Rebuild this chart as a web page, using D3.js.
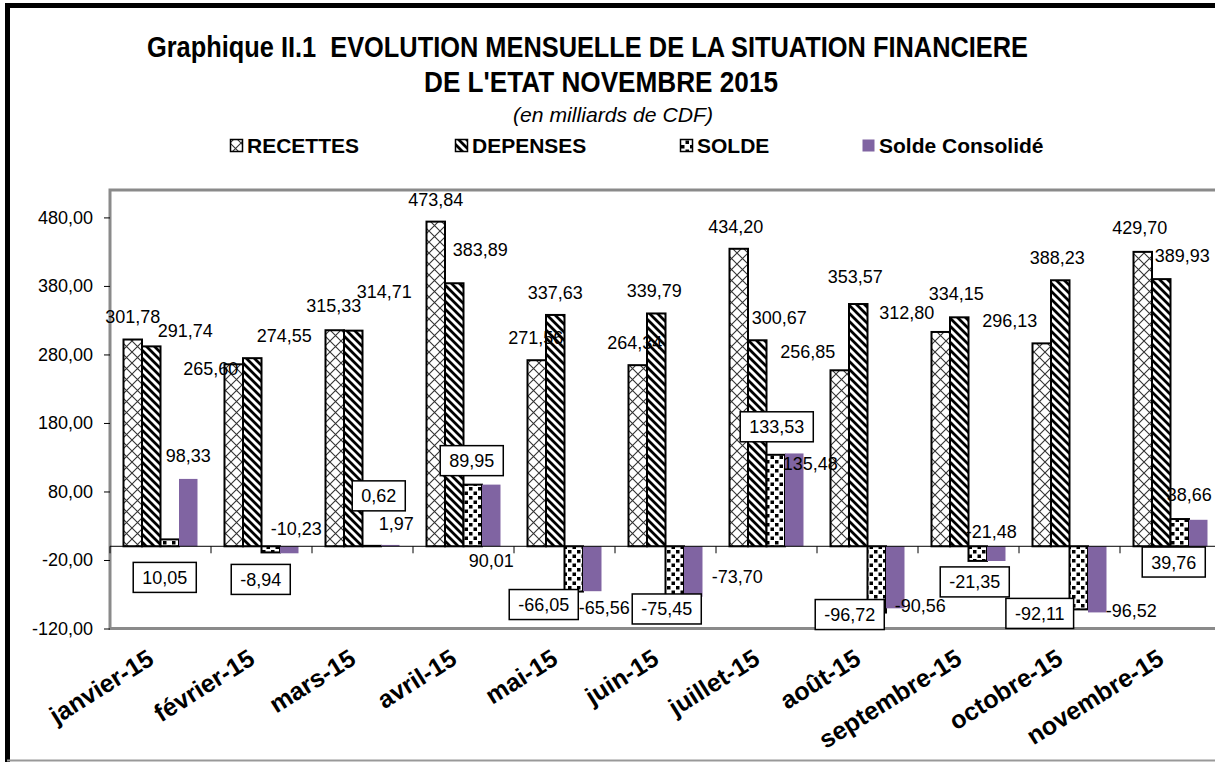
<!DOCTYPE html>
<html lang="fr">
<head>
<meta charset="UTF-8">
<title>Evolution mensuelle de la situation financière de l'Etat</title>
<script src="https://cdn.jsdelivr.net/npm/d3@7"></script>
<style>
  body { margin: 0; background: #fff; }
  svg { display: block; font-family: "Liberation Sans", Arial, sans-serif; }
</style>
</head>
<body>
<script>
// data (milliards de CDF)
const months = ["janvier-15", "février-15", "mars-15", "avril-15", "mai-15", "juin-15",
                "juillet-15", "août-15", "septembre-15", "octobre-15", "novembre-15"];
const recettes = [301.78, 265.60, 315.33, 473.84, 271.56, 264.34, 434.20, 256.85, 312.80, 296.13, 429.70];
const depenses = [291.74, 274.55, 314.71, 383.89, 337.63, 339.79, 300.67, 353.57, 334.15, 388.23, 389.93];
const solde = [10.05, -8.94, 0.62, 89.95, -66.05, -75.45, 133.53, -96.72, -21.35, -92.11, 39.76];
const soldeConsolide = [98.33, -10.23, 1.97, 90.01, -65.56, -73.70, 135.48, -90.56, -21.48, -96.52, 38.66];
const yTicks = [-120, -20, 80, 180, 280, 380, 480];
const seriesNames = ["RECETTES", "DEPENSES", "SOLDE", "Solde Consolidé"];

// hand placed data labels, as in the original (dx from bar centre, dy from bar end)
const recNudge = [[0,-17],[-23,11],[-1,-18],[0,-16],[-1,-16],[-3,-16],[-3,-16],[-32,-12],[-34,-13],[-32,-16],[-3,-18]];
const depNudge = [[34,-9],[32,-16],[31,-33],[26,-27],[0,-16],[-2,-16],[22,-16],[-3,-21],[-3,-17],[-3,-16],[21,-17]];
const soldeNudge = [[-5,38],[-10,27],[7,-50],[-1,-24],[-30,13],[-8,11],[1,-28],[-27,2],[-3,21],[-39,4],[-6,43]];
const consNudge = [[0,-17],[7,-18],[6,-15],[0,82],[12,23],[44,-14],[16,17],[25,4],[-5,-23],[34,5],[-9,-19]];

const W = 1215, H = 762;
const plot = {left: 110, right: 1221, top: 190, bottom: 628.5};

const fr = d3.formatLocale({decimal: ",", thousands: " ", grouping: [3], currency: ["", ""], minus: "-"});
const fmt = fr.format(".2f");

const svg = d3.select("body").append("svg").attr("width", W).attr("height", H);

// patterns
const defs = svg.append("defs");
const pRec = defs.append("pattern").attr("id", "p-rec").attr("patternUnits", "userSpaceOnUse")
  .attr("width", 11).attr("height", 11);
pRec.append("rect").attr("width", 11).attr("height", 11).attr("fill", "#fff");
pRec.append("path").attr("d", "M0,0L11,11M11,0L0,11").attr("stroke", "#333").attr("stroke-width", 1.1);

const pDep = defs.append("pattern").attr("id", "p-dep").attr("patternUnits", "userSpaceOnUse")
  .attr("width", 8).attr("height", 8);
pDep.append("rect").attr("width", 8).attr("height", 8).attr("fill", "#fff");
pDep.append("path").attr("d", "M-2,-2L10,10M-2,6L2,10M6,-2L10,2").attr("stroke", "#000").attr("stroke-width", 2.8);

const pSol = defs.append("pattern").attr("id", "p-sol").attr("patternUnits", "userSpaceOnUse")
  .attr("width", 9).attr("height", 9);
pSol.append("rect").attr("width", 9).attr("height", 9).attr("fill", "#fff");
pSol.append("rect").attr("x", 1).attr("y", 1).attr("width", 3.5).attr("height", 3.5).attr("fill", "#000");
pSol.append("rect").attr("x", 5.5).attr("y", 5.5).attr("width", 3.5).attr("height", 3.5).attr("fill", "#000");

const fills = ["url(#p-rec)", "url(#p-dep)", "url(#p-sol)", "#8064A2"];
const strokes = ["#000", "#000", "#000", "none"];

// background + outer frame
svg.append("rect").attr("width", W).attr("height", H).attr("fill", "#fff");
svg.append("rect").attr("x", 7.5).attr("y", 5.5).attr("width", W + 20).attr("height", H + 20)
  .attr("fill", "none").attr("stroke", "#000").attr("stroke-width", 5);
svg.append("line").attr("x1", 7).attr("x2", W).attr("y1", 760.5).attr("y2", 760.5)
  .attr("stroke", "#999").attr("stroke-width", 2);

// titles
svg.append("text").attr("x", 587.5).attr("y", 57).attr("text-anchor", "middle")
  .attr("font-size", 29).attr("font-weight", "bold").style("white-space", "pre")
  .attr("textLength", 881).attr("lengthAdjust", "spacingAndGlyphs")
  .text("Graphique II.1  EVOLUTION MENSUELLE DE LA SITUATION FINANCIERE");
svg.append("text").attr("x", 601).attr("y", 92).attr("text-anchor", "middle")
  .attr("font-size", 29).attr("font-weight", "bold")
  .attr("textLength", 354).attr("lengthAdjust", "spacingAndGlyphs")
  .text("DE L'ETAT NOVEMBRE 2015");
svg.append("text").attr("x", 613).attr("y", 122).attr("text-anchor", "middle")
  .attr("font-size", 21).attr("font-style", "italic")
  .attr("textLength", 200).attr("lengthAdjust", "spacingAndGlyphs")
  .text("(en milliards de CDF)");

// legend
const legendX = [230, 455, 680, 862];
const legend = svg.append("g").selectAll("g").data(seriesNames).join("g")
  .attr("transform", (d, i) => `translate(${legendX[i]},0)`);
legend.append("rect").attr("x", 0.5).attr("y", 139.5).attr("width", 12).attr("height", 12)
  .attr("fill", (d, i) => fills[i]).attr("stroke", (d, i) => strokes[i]).attr("stroke-width", 1.5);
legend.append("text").attr("x", 17).attr("y", 152.5).attr("font-size", 21).attr("font-weight", "bold")
  .text(d => d);

// scales
const x0 = d3.scaleBand().domain(months).range([plot.left, plot.right]).paddingInner(0).paddingOuter(0);
const x1 = d3.scaleBand().domain(seriesNames).range([0, x0.bandwidth()]).paddingInner(0).paddingOuter(0.73);
const y = d3.scaleLinear().domain([-120, 520]).range([plot.bottom, plot.top]);
const y0 = y(0);

// plot frame
svg.append("rect").attr("x", plot.left).attr("y", plot.top)
  .attr("width", plot.right - plot.left + 10).attr("height", plot.bottom - plot.top)
  .attr("fill", "none").attr("stroke", "#8a8a8a").attr("stroke-width", 3);

// y axis
const yAxis = svg.append("g").attr("transform", `translate(${plot.left},0)`)
  .call(d3.axisLeft(y).tickValues(yTicks).tickSize(6).tickPadding(11).tickFormat(fmt));
yAxis.select(".domain").remove();
yAxis.selectAll(".tick line").attr("stroke", "#000");
yAxis.selectAll(".tick text").attr("font-size", 18).attr("fill", "#000")
  .attr("font-family", "'Liberation Sans', Arial, sans-serif");

// bars
const seriesData = [recettes, depenses, solde, soldeConsolide];
seriesData.forEach((vals, s) => {
  svg.append("g").selectAll("rect").data(vals).join("rect")
    .attr("x", (d, i) => x0(months[i]) + x1(seriesNames[s]))
    .attr("width", x1.bandwidth())
    .attr("y", d => Math.min(y(d), y0))
    .attr("height", d => Math.abs(y(d) - y0))
    .attr("fill", fills[s])
    .attr("stroke", strokes[s])
    .attr("stroke-width", 2);
});

// category axis line and ticks
svg.append("line").attr("x1", plot.left).attr("x2", plot.right).attr("y1", y0).attr("y2", y0)
  .attr("stroke", "#000").attr("stroke-width", 1);
svg.append("g").selectAll("line").data(months).join("line")
  .attr("x1", d => x0(d)).attr("x2", d => x0(d)).attr("y1", y0).attr("y2", y0 + 7)
  .attr("stroke", "#000");

// x labels
const xAxis = svg.append("g").attr("transform", "translate(0,663)")
  .call(d3.axisBottom(x0).tickSize(0));
xAxis.select(".domain").remove();
xAxis.selectAll(".tick text")
  .attr("x", 0).attr("y", 0).attr("dy", 0)
  .attr("text-anchor", "end")
  .attr("transform", "translate(-5,0) rotate(-32)")
  .attr("font-size", 25).attr("font-weight", "bold").attr("fill", "#000")
  .attr("font-family", "'Liberation Sans', Arial, sans-serif");

// data labels
const cx = (i, s) => x0(months[i]) + x1(seriesNames[s]) + x1.bandwidth() / 2;
const plainLabels = (vals, s, nudge) => {
  svg.append("g").selectAll("text").data(vals).join("text")
    .attr("x", (d, i) => cx(i, s) + nudge[i][0])
    .attr("y", (d, i) => y(d) + nudge[i][1])
    .attr("text-anchor", "middle").attr("font-size", 18).attr("fill", "#000")
    .text(d => fmt(d));
};
plainLabels(recettes, 0, recNudge);
plainLabels(depenses, 1, depNudge);
plainLabels(soldeConsolide, 3, consNudge);

// boxed labels for SOLDE
const boxes = svg.append("g").selectAll("g").data(solde).join("g")
  .attr("transform", (d, i) => `translate(${cx(i, 2) + soldeNudge[i][0]},${y(d) + soldeNudge[i][1]})`);
boxes.append("rect").attr("fill", "#fff").attr("stroke", "#000").attr("stroke-width", 1.5);
boxes.append("text").attr("text-anchor", "middle").attr("y", 6.5).attr("font-size", 18).attr("fill", "#000")
  .text(d => fmt(d));
boxes.each(function() {
  const g = d3.select(this);
  const w = g.select("text").node().getComputedTextLength() + 18;
  g.select("rect").attr("x", -w / 2).attr("y", -15).attr("width", w).attr("height", 30);
});
</script>
</body>
</html>
